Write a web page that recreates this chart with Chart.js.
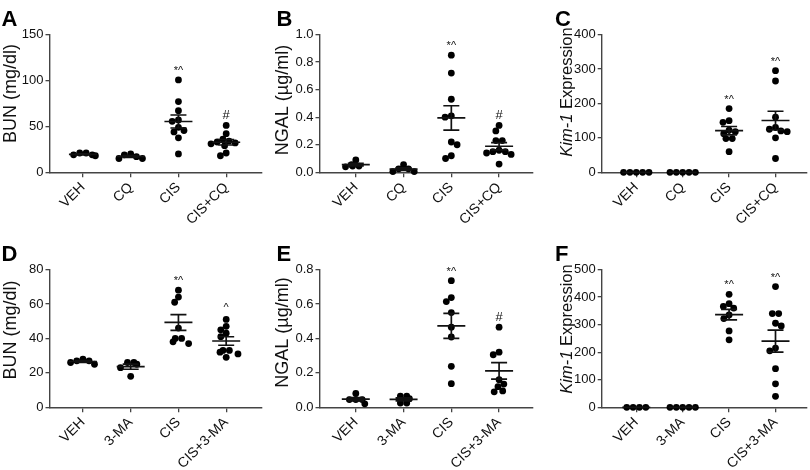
<!DOCTYPE html>
<html>
<head>
<meta charset="utf-8">
<script src="https://cdn.jsdelivr.net/npm/chart.js@4.4.0/dist/chart.umd.min.js"></script>
<style>
  body { margin: 0; background: #fff; }
  #wrap { position: relative; width: 810px; height: 470px; }
  .panel { position: absolute; width: 270px; height: 235px; }
</style>
</head>
<body>
<div id="wrap">
  <div class="panel" style="left:0;top:0"><canvas id="chartA" width="270" height="235"></canvas></div>
  <div class="panel" style="left:270px;top:0"><canvas id="chartB" width="270" height="235"></canvas></div>
  <div class="panel" style="left:540px;top:0"><canvas id="chartC" width="270" height="235"></canvas></div>
  <div class="panel" style="left:0;top:235px"><canvas id="chartD" width="270" height="235"></canvas></div>
  <div class="panel" style="left:270px;top:235px"><canvas id="chartE" width="270" height="235"></canvas></div>
  <div class="panel" style="left:540px;top:235px"><canvas id="chartF" width="270" height="235"></canvas></div>
</div>
<script>
// group names
var groupsCQ = ["VEH", "CQ", "CIS", "CIS+CQ"];
var groupsMA = ["VEH", "3-MA", "CIS", "CIS+3-MA"];

// A - BUN, chloroquine
var bunCQ = [
  [21, 19, 18, 19, 21],
  [20, 17, 15, 15, 19],
  [100.5, 77, 67, 57, 55.5, 49, 44, 45.5, 37.5, 20],
  [51, 42, 36, 34, 33, 32, 31, 29, 21, 18]
];
// B - NGAL, chloroquine
var ngalCQ = [
  [0.09, 0.045, 0.04, 0.045, 0.055],
  [0.025, 0.005, 0.005, 0.025, 0.055],
  [0.85, 0.72, 0.53, 0.40, 0.41, 0.22, 0.20, 0.10, 0.12],
  [0.34, 0.30, 0.23, 0.23, 0.16, 0.15, 0.15, 0.14, 0.13, 0.06]
];
// C - Kim-1, chloroquine
var kimCQ = [
  [0, 0, 0, 0, 0],
  [0, 0, 0, 0, 0],
  [185, 150, 145, 122, 118, 112, 98, 98, 60],
  [295, 265, 160, 130, 125, 120, 118, 100, 40]
];
// D - BUN, 3-MA
var bunMA = [
  [28, 27, 25, 26, 27],
  [26, 25, 23, 18, 26],
  [68, 64, 61, 46, 40, 40, 37, 38],
  [51, 47, 45, 43, 41, 33, 31, 29, 32, 33]
];
// E - NGAL, 3-MA
var ngalMA = [
  [0.08, 0.045, 0.045, 0.045, 0.02],
  [0.065, 0.05, 0.025, 0.025, 0.065],
  [0.735, 0.637, 0.614, 0.55, 0.465, 0.408, 0.238, 0.137],
  [0.465, 0.32, 0.305, 0.16, 0.135, 0.12, 0.095, 0.09]
];
// F - Kim-1, 3-MA
var kimMA = [
  [0, 0, 0, 0],
  [0, 0, 0, 0, 0],
  [410, 376, 366, 360, 335, 322, 277, 245],
  [438, 340, 340, 305, 295, 215, 205, 140, 85, 40]
];

var marksCQ_A = ["", "", "*^", "#"];
var marksCQ_B = ["", "", "*^", "#"];
var marksCQ_C = ["", "", "*^", "*^"];
var marksMA_D = ["", "", "*^", "^"];
var marksMA_E = ["", "", "*^", "#"];
var marksMA_F = ["", "", "*^", "*^"];

var FONT = "'Liberation Sans', Arial, sans-serif";
var PLOT_TOP = 34.5, PLOT_BOTTOM = 172.3, DOT_R = 3.4, DOT_GAP = 6.4;

var panels = [
  { id: "chartA", letter: "A", letterX: 1.5, groups: groupsCQ, values: bunCQ, marks: marksCQ_A,
    yMax: 150, step: 50, dec: 0, title: [["BUN (mg/dl)", false]], titleSize: 18, titleX: 16, titleY: 93.5,
    left: 49.5, right: 262, xMin: -0.7, xMax: 3.75 },
  { id: "chartB", letter: "B", letterX: 6.5, groups: groupsCQ, values: ngalCQ, marks: marksCQ_B,
    yMax: 1.0, step: 0.2, dec: 1, title: [["NGAL (\u00b5g/ml)", false]], titleSize: 18, titleX: 17.5, titleY: 100,
    left: 49.5, right: 263, xMin: -0.76, xMax: 3.71 },
  { id: "chartC", letter: "C", letterX: 15, groups: groupsCQ, values: kimCQ, marks: marksCQ_C,
    yMax: 400, step: 100, dec: 0, title: [["Kim-1", true], [" Expression", false]], titleSize: 16.5, titleX: 32, titleY: 92,
    left: 61.7, right: 268, xMin: -0.745, xMax: 3.67 },
  { id: "chartD", letter: "D", letterX: 1.5, groups: groupsMA, values: bunMA, marks: marksMA_D,
    yMax: 80, step: 20, dec: 0, title: [["BUN (mg/dl)", false]], titleSize: 18, titleX: 16, titleY: 95,
    left: 49.5, right: 262, xMin: -0.7, xMax: 3.75 },
  { id: "chartE", letter: "E", letterX: 6.5, groups: groupsMA, values: ngalMA, marks: marksMA_E,
    yMax: 0.8, step: 0.2, dec: 1, title: [["NGAL (\u00b5g/ml)", false]], titleSize: 18, titleX: 17.5, titleY: 97.5,
    left: 49.5, right: 263, xMin: -0.76, xMax: 3.71 },
  { id: "chartF", letter: "F", letterX: 15, groups: groupsMA, values: kimMA, marks: marksMA_F,
    yMax: 500, step: 100, dec: 0, title: [["Kim-1", true], [" Expression", false]], titleSize: 16.5, titleX: 32, titleY: 94,
    left: 61.7, right: 268, xMin: -0.745, xMax: 3.67 }
];

// simple beeswarm: horizontal offsets (px) so dots don't overlap
function swarm(vals, pxPerY, d) {
  var order = vals.map(function (v, i) { return i; })
    .sort(function (a, b) { return vals[b] - vals[a]; });
  var placed = [];
  var offs = [];
  var flip = 1;
  order.forEach(function (i) {
    var y = vals[i] * pxPerY;
    var cands = [0];
    placed.forEach(function (p) {
      var dy = Math.abs(p.y - y);
      if (dy < d) {
        var dx = Math.sqrt(d * d - dy * dy);
        cands.push(p.x + dx, p.x - dx);
      }
    });
    var ok = cands.filter(function (c) {
      return placed.every(function (p) {
        var dx = c - p.x, dy = p.y - y;
        return dx * dx + dy * dy >= d * d - 0.01;
      });
    });
    ok.sort(function (a, b) {
      var diff = Math.abs(a) - Math.abs(b);
      if (Math.abs(diff) > 0.01) return diff;
      return (a - b) * flip;
    });
    var x = ok[0];
    if (x !== 0) flip = -flip;
    offs[i] = x;
    placed.push({ x: x, y: y });
  });
  // centre rows of identical values
  var seen = {};
  vals.forEach(function (v) { seen[v] = (seen[v] || 0) + 1; });
  Object.keys(seen).forEach(function (k) {
    if (seen[k] < 2) return;
    var idx = [], sum = 0;
    vals.forEach(function (v, i) { if (String(v) === k) { idx.push(i); sum += offs[i]; } });
    var m = sum / idx.length;
    idx.forEach(function (i) { offs[i] -= m; });
  });
  return offs;
}

var decorPlugin = {
  id: "decor",
  afterDatasetsDraw: function (chart, args, opts) {
    var p = opts.panel;
    var ctx = chart.ctx;
    var xs = chart.scales.x, ys = chart.scales.y;
    ctx.save();
    ctx.strokeStyle = "#111";
    ctx.lineWidth = 1.7;
    p.values.forEach(function (vals, g) {
      var n = vals.length;
      var mean = vals.reduce(function (a, b) { return a + b; }, 0) / n;
      var ss = vals.reduce(function (a, v) { return a + (v - mean) * (v - mean); }, 0);
      var sem = Math.sqrt(ss / (n - 1)) / Math.sqrt(n);
      var cx = xs.getPixelForValue(g);
      var ym = ys.getPixelForValue(mean);
      var yt = ys.getPixelForValue(mean + sem);
      var yb = ys.getPixelForValue(mean - sem);
      ctx.beginPath();
      ctx.moveTo(cx - 14, ym); ctx.lineTo(cx + 14, ym);
      ctx.moveTo(cx, yt); ctx.lineTo(cx, yb);
      ctx.moveTo(cx - 8, yt); ctx.lineTo(cx + 8, yt);
      ctx.moveTo(cx - 8, yb); ctx.lineTo(cx + 8, yb);
      ctx.stroke();
      // significance marks above highest dot
      var mk = p.marks[g];
      if (mk) {
        var top = ys.getPixelForValue(Math.max.apply(null, vals));
        ctx.fillStyle = "#111";
        ctx.textAlign = "center";
        ctx.textBaseline = "middle";
        if (mk === "#") {
          ctx.font = "13px " + FONT;
          ctx.fillText(mk, cx, top - 10);
        } else {
          ctx.font = "11px " + FONT;
          ctx.fillText(mk, cx, top - (mk === "^" ? 11 : 9));
        }
      }
    });
    ctx.restore();
  },
  afterDraw: function (chart, args, opts) {
    var p = opts.panel;
    var ctx = chart.ctx;
    ctx.save();
    ctx.fillStyle = "#000";
    ctx.font = "bold 22px " + FONT;
    ctx.textAlign = "left";
    ctx.textBaseline = "alphabetic";
    ctx.fillText(p.letter, p.letterX, 25.5);
    // y axis title, possibly with italic part
    ctx.translate(p.titleX, p.titleY);
    ctx.rotate(-Math.PI / 2);
    ctx.fillStyle = "#111";
    var total = 0;
    p.title.forEach(function (part) {
      ctx.font = (part[1] ? "italic " : "") + p.titleSize + "px " + FONT;
      total += ctx.measureText(part[0]).width;
    });
    var x = -total / 2;
    p.title.forEach(function (part) {
      ctx.font = (part[1] ? "italic " : "") + p.titleSize + "px " + FONT;
      ctx.fillText(part[0], x, 0);
      x += ctx.measureText(part[0]).width;
    });
    ctx.restore();
  }
};

panels.forEach(function (p) {
  var pxPerY = (PLOT_BOTTOM - PLOT_TOP) / p.yMax;
  var pxPerX = (p.right - p.left) / (p.xMax - p.xMin);
  var points = [];
  p.values.forEach(function (vals, g) {
    var offs = swarm(vals, pxPerY, DOT_GAP);
    vals.forEach(function (v, i) {
      points.push({ x: g + offs[i] / pxPerX, y: v });
    });
  });

  new Chart(document.getElementById(p.id).getContext("2d"), {
    type: "scatter",
    data: {
      datasets: [{
        data: points,
        pointRadius: DOT_R,
        pointHoverRadius: DOT_R,
        pointBackgroundColor: "#000",
        pointBorderWidth: 0,
        clip: false
      }]
    },
    options: {
      responsive: false,
      animation: false,
      events: [],
      layout: { padding: { top: PLOT_TOP, left: 0, right: 270 - p.right, bottom: 0 } },
      plugins: {
        legend: { display: false },
        tooltip: { enabled: false },
        decor: { panel: p }
      },
      scales: {
        x: {
          type: "linear",
          min: p.xMin,
          max: p.xMax,
          afterBuildTicks: function (scale) {
            scale.ticks = [0, 1, 2, 3].map(function (v) { return { value: v }; });
          },
          afterFit: function (scale) { scale.height = 235 - PLOT_BOTTOM; },
          grid: { display: true, drawOnChartArea: false, drawTicks: true, tickLength: 5, color: "#444", lineWidth: 1.3 },
          border: { display: true, color: "#444", width: 1.4 },
          ticks: {
            autoSkip: false,
            minRotation: 45,
            maxRotation: 45,
            padding: 2,
            color: "#111",
            font: { family: FONT, size: 14 },
            callback: function (v) { return p.groups[v]; }
          }
        },
        y: {
          min: 0,
          max: p.yMax,
          afterFit: function (scale) { scale.width = p.left; },
          grid: { display: true, drawOnChartArea: false, drawTicks: true, tickLength: 4, color: "#444", lineWidth: 1.3 },
          border: { display: true, color: "#444", width: 1.4 },
          ticks: {
            stepSize: p.step,
            padding: 2,
            color: "#111",
            font: { family: FONT, size: 13 },
            callback: function (v) { return v.toFixed(p.dec); }
          }
        }
      }
    },
    plugins: [decorPlugin]
  });
});
</script>
</body>
</html>
